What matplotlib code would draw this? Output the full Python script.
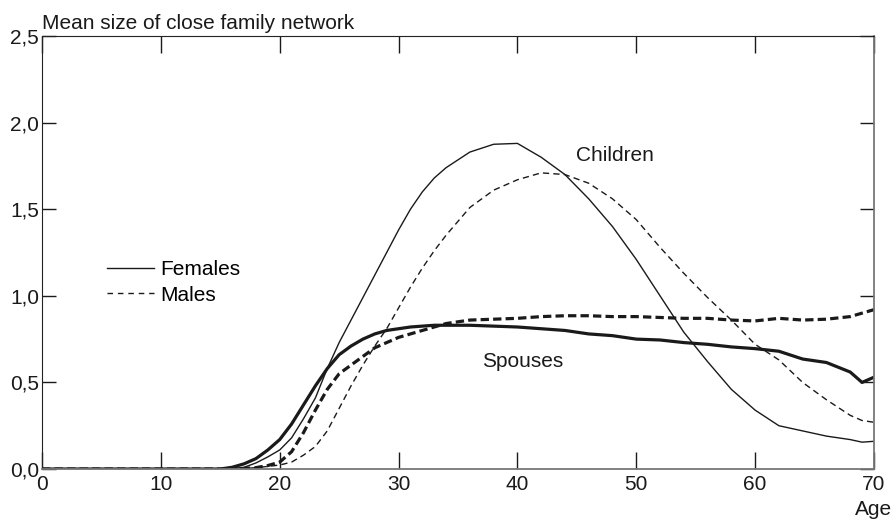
import matplotlib
matplotlib.use("Agg")
import matplotlib.pyplot as plt
from matplotlib.lines import Line2D

plt.rcParams['font.family'] = ['Liberation Sans', 'DejaVu Sans']
plt.rcParams['lines.scale_dashes'] = False

ages = [0, 10, 15, 16, 17, 18, 19, 20, 21, 22, 23, 24, 25, 26, 27, 28, 29, 30,
        31, 32, 33, 34, 36, 38, 40, 42, 44, 46, 48, 50, 52, 54, 56, 58, 60,
        62, 64, 66, 68, 69, 70]

# children, females (thin solid)
children_f = [0, 0, 0, 0.003, 0.01, 0.035, 0.07, 0.11, 0.18, 0.29, 0.41, 0.58,
              0.73, 0.86, 0.99, 1.12, 1.25, 1.38, 1.50, 1.60, 1.68, 1.74,
              1.83, 1.875, 1.88, 1.80, 1.70, 1.56, 1.40, 1.21, 1.00, 0.79,
              0.62, 0.46, 0.34, 0.25, 0.22, 0.19, 0.17, 0.155, 0.16]
# children, males (thin dashed)
children_m = [0, 0, 0, 0, 0.003, 0.008, 0.015, 0.023, 0.04, 0.08, 0.13, 0.22,
              0.35, 0.48, 0.60, 0.71, 0.81, 0.93, 1.05, 1.16, 1.26, 1.35,
              1.51, 1.61, 1.67, 1.71, 1.70, 1.65, 1.56, 1.44, 1.28, 1.13,
              0.99, 0.86, 0.72, 0.63, 0.50, 0.40, 0.31, 0.28, 0.27]
# spouses, females (thick solid)
spouses_f = [0, 0, 0, 0.01, 0.03, 0.06, 0.11, 0.17, 0.26, 0.37, 0.48, 0.58,
             0.66, 0.71, 0.75, 0.78, 0.80, 0.81, 0.82, 0.825, 0.83, 0.83,
             0.83, 0.825, 0.82, 0.81, 0.80, 0.78, 0.77, 0.75, 0.745, 0.73,
             0.72, 0.705, 0.695, 0.68, 0.635, 0.615, 0.56, 0.50, 0.53]
# spouses, males (thick dashed)
spouses_m = [0, 0, 0, 0, 0.003, 0.008, 0.02, 0.04, 0.10, 0.21, 0.34, 0.46,
             0.55, 0.60, 0.65, 0.70, 0.73, 0.76, 0.78, 0.80, 0.82, 0.84,
             0.86, 0.865, 0.87, 0.88, 0.885, 0.885, 0.88, 0.88, 0.875, 0.87,
             0.87, 0.86, 0.855, 0.87, 0.86, 0.865, 0.88, 0.90, 0.92]

xticks = [0, 10, 20, 30, 40, 50, 60, 70]
yticks = [0.0, 0.5, 1.0, 1.5, 2.0, 2.5]
ytick_labels = ['0,0', '0,5', '1,0', '1,5', '2,0', '2,5']

fs = 15
fig = plt.figure(figsize=(8.96, 5.22), dpi=100)
ax = fig.add_axes([0.0469, 0.1015, 0.9285, 0.8295])

ink = '#1a1a1a'
ax.plot(ages, children_f, color=ink, lw=1.0)
ax.plot(ages, children_m, color=ink, lw=1.0, dashes=(4.5, 3))
ax.plot(ages, spouses_f, color=ink, lw=2.3)
ax.plot(ages, spouses_m, color=ink, lw=2.3, dashes=(6, 3))

ax.set_xlim(0, 70)
ax.set_ylim(0, 2.5)
ax.set_xticks(xticks)
ax.set_yticks(yticks)
ax.set_yticklabels(ytick_labels)

ax.tick_params(axis='x', direction='in', length=12, width=1, pad=4,
               labelsize=fs, top=True, colors=ink)
ax.tick_params(axis='y', direction='in', length=10, width=1, pad=2,
               labelsize=fs, right=True, colors=ink)
for side in ['left', 'top']:
    ax.spines[side].set_color('#222222')
for side in ['bottom', 'right']:
    ax.spines[side].set_color('#777777')
    ax.spines[side].set_linewidth(1.3)

ax.text(0, 1.016, 'Mean size of close family network', transform=ax.transAxes,
        ha='left', va='baseline', fontsize=fs, color=ink)
ax.annotate('Age', xy=(70, -0.094), xycoords=('data', 'axes fraction'),
            ha='center', va='center', fontsize=fs, color=ink,
            annotation_clip=False)
ax.text(44.9, 1.81, 'Children', ha='left', va='center', fontsize=fs, color=ink)
ax.text(37.0, 0.62, 'Spouses', ha='left', va='center', fontsize=fs, color=ink)

handles = [Line2D([], [], color=ink, lw=1.0),
           Line2D([], [], color=ink, lw=1.0, dashes=(4, 3.5))]
ax.legend(handles, ['Females', 'Males'], loc='upper left',
          bbox_to_anchor=(0.078, 0.482), frameon=False, fontsize=fs,
          handlelength=2.26, handletextpad=0.3, labelspacing=0.3,
          borderpad=0, borderaxespad=0)

fig.savefig('out.png', dpi=100)
